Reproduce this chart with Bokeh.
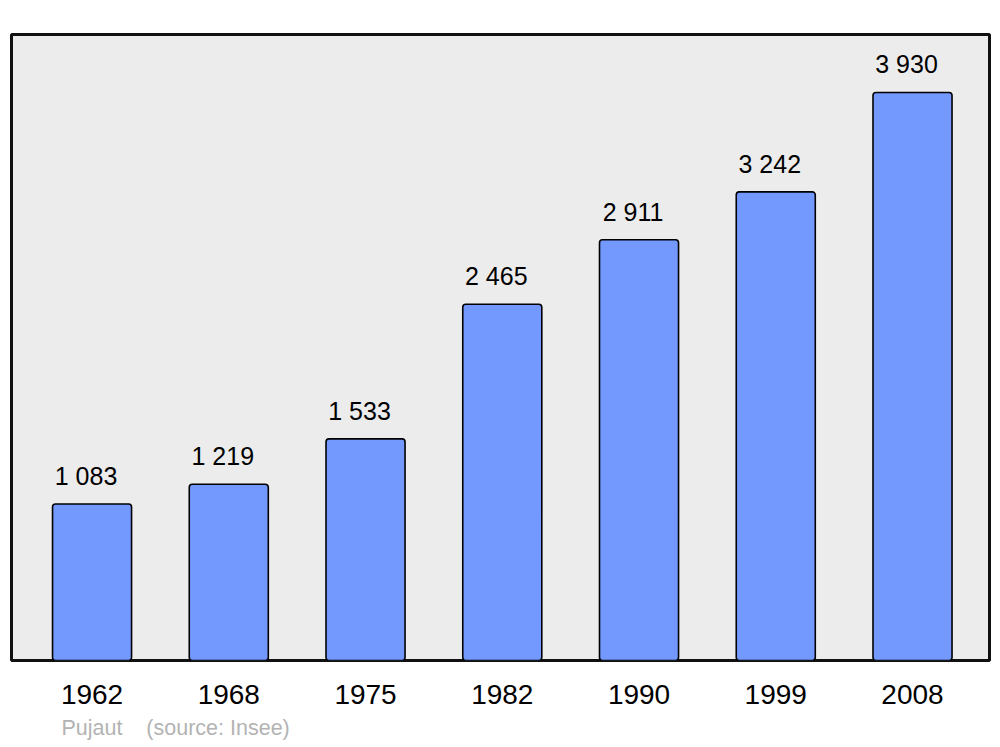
from bokeh.plotting import figure
from bokeh.models import Range1d, FixedTicker, Title, ColumnDataSource
from bokeh.core.properties import value
from bokeh.embed import file_html
from bokeh.resources import INLINE

years = ["1962", "1968", "1975", "1982", "1990", "1999", "2008"]
population = [1083, 1219, 1533, 2465, 2911, 3242, 3930]
commune = "Pujaut"
source_note = "(source: Insee)"

idx = list(range(len(years)))
labels = [f"{v:,}".replace(",", " ") for v in population]
src = ColumnDataSource(dict(x=idx, top=population, lab=labels))

FONT = "Liberation Sans"

p = figure(width=1000, height=747, output_backend="svg", toolbar_location=None,
           x_range=Range1d(-0.589, 6.563), y_range=Range1d(0, 4331),
           min_border_left=11, min_border_right=11, min_border_top=34, min_border_bottom=87)
p.background_fill_color = "#ececec"
p.border_fill_color = "white"
p.outline_line_color = "#111111"
p.outline_line_width = 3
p.grid.visible = False
p.yaxis.visible = False

p.vbar(x="x", top="top", width=0.578, bottom=0, source=src,
       fill_color="#7399ff", line_color="black", line_width=1.6, border_radius=3)
p.text(x="x", y="top", text="lab", source=src, text_align="center",
       text_baseline="alphabetic", y_offset=-28, x_offset=-6,
       text_font=value(FONT), text_font_size="25px", text_color="black")

ax = p.xaxis[0]
ax.ticker = FixedTicker(ticks=idx)
ax.major_label_overrides = {i: y for i, y in zip(idx, years)}
ax.axis_line_color = None
ax.major_tick_line_color = None
ax.minor_tick_line_color = None
ax.major_label_text_font = FONT
ax.major_label_text_font_size = "28px"
ax.major_label_text_color = "black"
ax.major_label_standoff = 18

note = Title(text=commune + "\u00a0" * 4 + source_note, align="left", offset=50,
             text_font=FONT, text_font_size="21.5px", text_font_style="normal",
             text_color="#b3b3b3", standoff=14)
p.add_layout(note, "below")

open("out.html", "w").write(file_html(p, INLINE))
